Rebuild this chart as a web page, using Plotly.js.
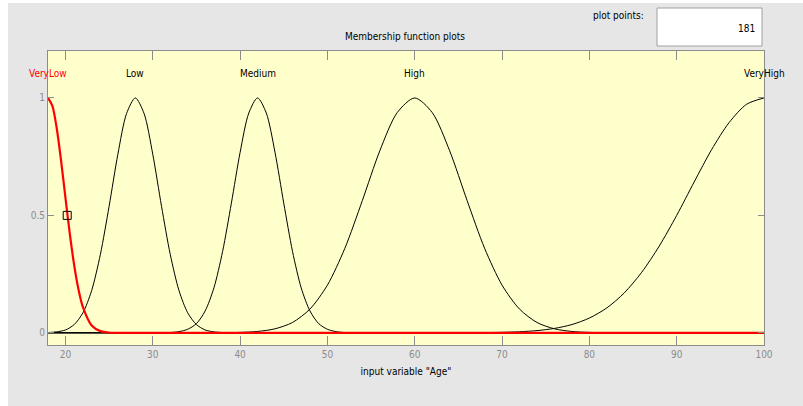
<!DOCTYPE html>
<html>
<head>
<meta charset="utf-8">
<script src="https://cdn.plot.ly/plotly-3.0.1.min.js"></script>
<style>html,body{margin:0;padding:0;background:#fff;}#chart{width:803px;height:406px;}</style>
</head>
<body>
<div id="chart"></div>
<script>
// Membership functions (input variable "Age", range 18..100)
const mfNames = ["VeryLow", "Low", "Medium", "High", "VeryHigh"];
const mfCenters = [18, 28, 42, 60, 100];

const veryLowX = [18, 18.5, 19, 19.5, 20, 20.5, 21, 21.5, 22, 23, 24, 25, 26, 100];
const veryLowY = [1, 0.966, 0.871, 0.732, 0.575, 0.421, 0.287, 0.183, 0.109, 0.031, 0.007, 0.001, 0, 0];

const lowX = [18, 19, 20, 21, 22, 23, 24, 25, 26, 27, 28, 29, 30, 31, 32, 33, 34, 35, 36, 37, 38, 39, 100];
const lowY = [0.001, 0.004, 0.012, 0.035, 0.085, 0.18, 0.334, 0.539, 0.76, 0.934, 1, 0.934, 0.76, 0.539, 0.334, 0.18, 0.085, 0.035, 0.012, 0.004, 0.001, 0, 0];

const mediumX = [18, 31, 32, 33, 34, 35, 36, 37, 38, 39, 40, 41, 42, 43, 44, 45, 46, 47, 48, 49, 50, 51, 52, 53, 100];
const mediumY = [0, 0, 0.001, 0.005, 0.015, 0.039, 0.093, 0.191, 0.347, 0.552, 0.768, 0.936, 1, 0.936, 0.768, 0.552, 0.347, 0.191, 0.093, 0.039, 0.015, 0.005, 0.001, 0, 0];

const highX = [18, 36, 38, 40, 42, 44, 46, 48, 50, 52, 54, 56, 58, 60, 62, 64, 66, 68, 70, 72, 74, 76, 78, 80, 82, 84, 100];
const highY = [0, 0, 0.0004, 0.0017, 0.0057, 0.0169, 0.0439, 0.101, 0.203, 0.36, 0.563, 0.775, 0.938, 1, 0.938, 0.775, 0.563, 0.36, 0.203, 0.101, 0.0439, 0.0169, 0.0057, 0.0017, 0.0004, 0, 0];

const veryHighX = [18, 64, 66, 68, 70, 72, 74, 76, 78, 80, 82, 84, 86, 88, 90, 92, 94, 96, 98, 100];
const veryHighY = [0, 0, 0.0003, 0.0008, 0.002, 0.0044, 0.0093, 0.0186, 0.0351, 0.0628, 0.106, 0.17, 0.258, 0.369, 0.5, 0.642, 0.78, 0.895, 0.973, 1];

const xTicks = [20, 30, 40, 50, 60, 70, 80, 90, 100];
const yTicks = [0, 0.5, 1];
const yTickText = ["0", "0.5", "1"];
const markerPoint = {x: [20.2], y: [0.5]};
const plotPointsValue = "181";

const FONT = "'DejaVu Sans Condensed', 'Liberation Sans Narrow', 'Liberation Sans', Arial, sans-serif";
const FS = 10;
const W = 803, H = 406;
const M = {l: 48, r: 39, t: 51, b: 61};
const pw = W - M.l - M.r, ph = H - M.t - M.b;
const px = v => (v - M.l) / pw;          // pixel -> paper x
const py = v => (H - M.b - v) / ph;      // pixel -> paper y

const blackSeries = [[lowX, lowY], [mediumX, mediumY], [highX, highY], [veryHighX, veryHighY]];
const traces = blackSeries.map(([x, y], i) => ({
  x: x, y: y, type: 'scatter', mode: 'lines',
  line: {color: '#000000', width: 1, shape: 'spline', smoothing: 0.8},
  name: mfNames[i + 1], hoverinfo: 'skip'
}));
traces.push({
  x: veryLowX, y: veryLowY, type: 'scatter', mode: 'lines',
  line: {color: '#ff0000', width: 2.2, shape: 'spline', smoothing: 0.8},
  name: mfNames[0], hoverinfo: 'skip'
});
traces.push({
  x: markerPoint.x, y: markerPoint.y, type: 'scatter', mode: 'markers',
  marker: {symbol: 'square-open', size: 8, color: '#000000', line: {width: 1, color: '#000000'}},
  hoverinfo: 'skip'
});

const annotations = mfNames.map((n, i) => ({
  x: mfCenters[i], y: 1.106, xref: 'x', yref: 'y', text: n, showarrow: false,
  xanchor: 'center', yanchor: 'middle',
  font: {family: FONT, size: FS, color: i === 0 ? '#ff0000' : '#000000'}
}));
annotations.push({
  x: px(405), y: py(37), xref: 'paper', yref: 'paper', text: 'Membership function plots',
  showarrow: false, xanchor: 'center', yanchor: 'middle',
  font: {family: FONT, size: FS, color: '#000000'}
});
annotations.push({
  x: px(646), y: py(15), xref: 'paper', yref: 'paper', text: 'plot points:',
  showarrow: false, xanchor: 'right', yanchor: 'middle',
  font: {family: FONT, size: FS, color: '#000000'}
});
annotations.push({
  x: px(757), y: py(28), xref: 'paper', yref: 'paper', text: plotPointsValue,
  showarrow: false, xanchor: 'right', yanchor: 'middle',
  font: {family: FONT, size: FS, color: '#000000'}
});

const shapes = [
  {type: 'rect', xref: 'paper', yref: 'paper', x0: px(657), x1: px(762), y0: py(46), y1: py(8),
   fillcolor: '#ffffff', line: {color: '#a0a0a0', width: 1}, layer: 'above'},
  {type: 'rect', xref: 'paper', yref: 'paper', x0: px(0), x1: px(8), y0: py(406), y1: py(0),
   fillcolor: '#ffffff', line: {width: 0}, layer: 'below'},
  {type: 'rect', xref: 'paper', yref: 'paper', x0: px(0), x1: px(803), y0: py(3), y1: py(0),
   fillcolor: '#ffffff', line: {width: 0}, layer: 'below'}
];

const layout = {
  width: W, height: H, margin: M,
  paper_bgcolor: '#e6e6e6', plot_bgcolor: '#ffffcc',
  showlegend: false,
  xaxis: {
    range: [18, 100], tickvals: xTicks, ticks: 'inside', ticklen: 9, tickcolor: '#8c8c8c',
    mirror: 'ticks', showline: true, linecolor: '#8c8c8c', linewidth: 1,
    showgrid: false, zeroline: false,
    tickfont: {family: FONT, size: FS, color: '#8c8c8c'},
    title: {text: 'input variable "Age"', font: {family: FONT, size: FS, color: '#000000'}, standoff: 8}
  },
  yaxis: {
    range: [-0.052, 1.2], tickvals: yTicks, ticktext: yTickText, ticks: 'inside', ticklen: 6,
    tickcolor: '#8c8c8c', mirror: 'ticks', showline: true, linecolor: '#8c8c8c', linewidth: 1,
    showgrid: false, zeroline: false,
    tickfont: {family: FONT, size: FS, color: '#8c8c8c'}
  },
  annotations: annotations,
  shapes: shapes
};

Plotly.newPlot('chart', traces, layout, {staticPlot: true, displayModeBar: false});
</script>
</body>
</html>
